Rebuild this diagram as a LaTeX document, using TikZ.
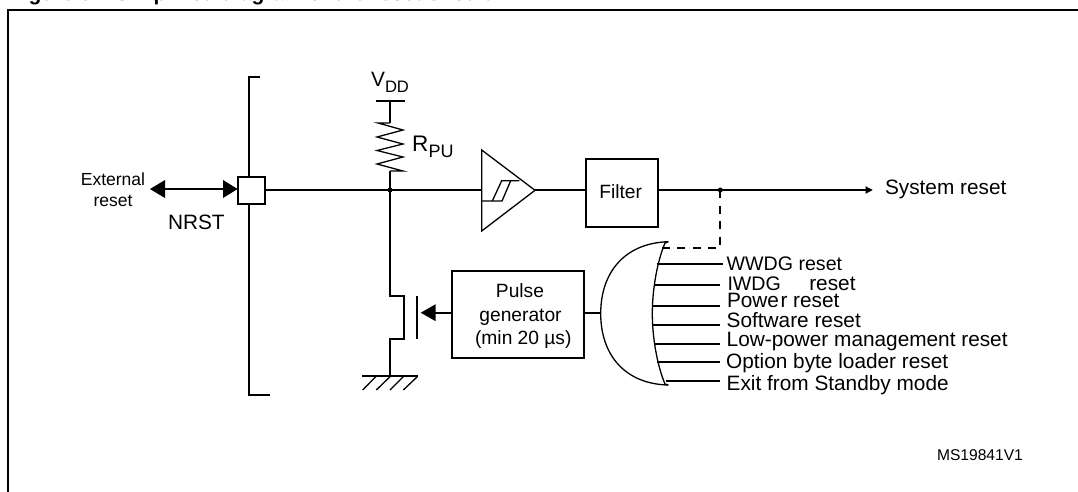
\documentclass[tikz,border=0pt]{standalone}
\usepackage{fontspec}
\setmainfont{Liberation Sans}
\newcommand{\fs}[1]{\fontsize{#1}{#1}\selectfont}
\tikzset{
  x=1pt,y=-1pt,
  wire/.style={line width=1.9pt,line cap=butt,line join=miter},
  thin wire/.style={line width=1.3pt,line join=miter},
  dashwire/.style={line width=1.8pt,dash pattern=on 8pt off 7.5pt},
  lab/.style={anchor=base west,inner sep=0pt,outer sep=0pt,text=black},
  sig/.style={lab,font=\fs{20.8}},
  boxn/.style={draw,line width=1.9pt,inner sep=0pt,fill=white},
  dot/.style={circle,fill=black,inner sep=0pt,minimum size=5pt},
  headfill/.style={fill=black,draw=none},
}
\begin{document}
\begin{tikzpicture}
\useasboundingbox (0,0) rectangle (1078,491);
% title, cut by the top edge
\node[lab,font=\bfseries\fs{21}] (title) at (10,0.3) {Figure 5.\ \ \ Simplified diagram of the reset circuit};
% frame
\coordinate (fbl) at (7.6,492); \coordinate (ftl) at (7.6,10); \coordinate (ftr) at (1079,10);
\draw[line width=2pt] (fbl) -- (ftl) -- (ftr);
% package bracket
\coordinate (brt) at (260,77); \coordinate (brtl) at (249,77);
\coordinate (brbl) at (249,395); \coordinate (brb) at (270,395);
\draw[wire] (brt) -- (brtl) -- (brbl) -- (brb);
% pad
\node[boxn,minimum width=27pt,minimum height=27pt] (pad) at (251.5,190.5) {};
% external
\node[lab,font=\fs{17.5},anchor=base] (ext1) at (113,185) {External};
\node[lab,font=\fs{17.5},anchor=base] (ext2) at (113,206) {reset};
\node[sig] (nrst) at (168,229) {NRST};
\coordinate (exttip) at (150,189);
\coordinate (padtip) at (237.6,189);
\draw[wire] (165,189) -- (223,189);
\fill[headfill] (exttip) -- (165,180) -- (165,198) -- cycle;
\fill[headfill] (padtip) -- (223,180) -- (223,198) -- cycle;
% VDD and pull-up
\node[sig] (v) at (371,86.7) {V};
\node[lab,font=\fs{16.6}] (dd) at (385,92.7) {DD};
\coordinate (vbl) at (376,100.7); \coordinate (vbr) at (404.6,100.7);
\draw[wire] (vbl) -- (vbr);
\coordinate (vtop) at (390,100.7);
\coordinate (rtop) at (390,123);
\coordinate (rbot) at (390,171);
\coordinate (j1) at (390,190);
\draw[wire] (vtop) -- (rtop);
\draw[thin wire] (rtop) -- (378,123) -- (403,130) -- (377,137) -- (403,144) -- (377,150.5) -- (403,157) -- (377,164) -- (403,171) -- (rbot);
\draw[wire] (rbot) -- (j1);
\node[lab,font=\fs{22.5}] (r) at (412,151.7) {R};
\node[lab,font=\fs{18}] (pu) at (428.5,157.3) {PU};
% schmitt buffer
\coordinate (ta) at (481.7,150); \coordinate (tb) at (481.7,231); \coordinate (tc) at (535,190.3);
\coordinate (tin) at (481.7,190); 
\draw[thin wire] (ta) -- (tc) -- (tb) -- cycle;
\draw[thin wire] (481.7,201) -- (502,201) -- (510.7,180.7) -- (519.3,180.7);
\draw[thin wire] (492.3,201) -- (501.7,180.7) -- (510.7,180.7);
\draw[wire] (pad.east |- j1) -- (tin);
\node[dot] (jd1) at (j1) {};
% filter
\node[boxn,minimum width=72pt,minimum height=67.4pt] (filter) at (621.7,193) {};
\node[lab,font=\fs{19.2},anchor=base] (filtert) at (620.7,198) {Filter};
\coordinate (tout) at (535,190);
\draw[wire] (tout) -- (filter.west |- tout);
% system reset
\coordinate (j2) at (720.3,190);
\coordinate (srtip) at (872.7,190);
\draw[wire] (filter.east |- j2) -- (866,190);
\fill[headfill] (srtip) -- (865.5,186.2) -- (865.5,193.8) -- cycle;
\node[dot] (jd2) at (j2) {};
\node[sig] (sysr) at (885,194) {System reset};
% dashed feedback
\coordinate (dc) at (720.3,248); \coordinate (dl) at (661.7,248);
\draw[dashwire] (j2) -- (dc) -- (dl);
% nmos and ground
\coordinate (m1) at (390,295.7); \coordinate (m2) at (404.3,295.7);
\coordinate (m3) at (404.3,339); \coordinate (m4) at (390,339);
\coordinate (gnd) at (390,376);
\draw[wire] (j1) -- (m1) -- (m2) -- (m3) -- (m4) -- (gnd);
\coordinate (gt) at (417,296); \coordinate (gb) at (417,339.3);
\draw[wire] (gt) -- (gb);
\coordinate (gl) at (362,376); \coordinate (gr) at (418,376);
\draw[wire] (gl) -- (gr);
\draw[thin wire] (375.7,376.7) -- (362.7,390) (390,376.7) -- (376.3,390) (403.3,376.7) -- (390,390) (417.3,376.7) -- (403.3,390);
% pulse generator
\node[boxn,minimum width=132.3pt,minimum height=87pt] (pulse) at (517.85,314.8) {};
\node[lab,font=\fs{19.2},anchor=base] (p1) at (520,297.7) {Pulse};
\node[lab,font=\fs{19.2},anchor=base] (p2) at (520.5,321.7) {generator};
\node[lab,font=\fs{19.2},anchor=base] (p3) at (523.3,344) {(min 20 µs)};
\coordinate (gatetip) at (420.7,312.7);
\draw[wire] (435,312.7) -- (pulse.west |- gatetip);
\fill[headfill] (gatetip) -- (435.7,304.2) -- (435.7,321.2) -- cycle;
% OR gate
\coordinate (ot) at (668.3,241.7); \coordinate (ob) at (668.3,385);
\coordinate (ol) at (600.7,313.5); \coordinate (il) at (652.3,313.5);
\draw[thin wire] (ot) .. controls (625,243) and (600.7,272) .. (ol) .. controls (600.7,355) and (625,384) .. (ob);
\draw[thin wire] (ot) -- (665,243) .. controls (657,262) and (652.3,290) .. (il) .. controls (652.3,337) and (657,365) .. (665,384) -- (ob);
\draw[wire] (pulse.east |- 0,312.7) -- (ol |- 0,312.7);
% inputs
\foreach \n/\y/\xa/\xb in {a/263.7/656.7/722.7,b/284.7/653.7/720,c/305.7/652.6/720,d/325/653/720,e/344/654/720,f/362/657/720,g/381/666/720}{
  \coordinate (in\n l) at (\xa,\y); \coordinate (in\n r) at (\xb,\y);
  \draw[wire] (in\n l) -- (in\n r);
}
\node[lab,font=\fs{19.6}] (wwdg) at (726.7,270.7) {WWDG reset};
\node[lab,font=\fs{19.6}] (iwdg) at (727.5,290.7) {IWDG};
\node[lab,font=\fs{20.8}] (iwdgr) at (809.3,290.7) {reset};
\node[sig] (pow) at (727,307.7) {Powe\hspace{1.5pt}r reset};
\node[sig] (sw) at (726.7,327) {Software reset};
\node[sig] (lp) at (726.7,346.7) {Low-power management reset};
\node[sig] (opt) at (726.2,368) {Option byte loader reset};
\node[sig] (ex) at (726.7,390.7) {Exit from Standby mode};
\node[lab,font=\fs{15.6}] (ms) at (937,460) {MS19841V1};
\end{tikzpicture}
\end{document}
